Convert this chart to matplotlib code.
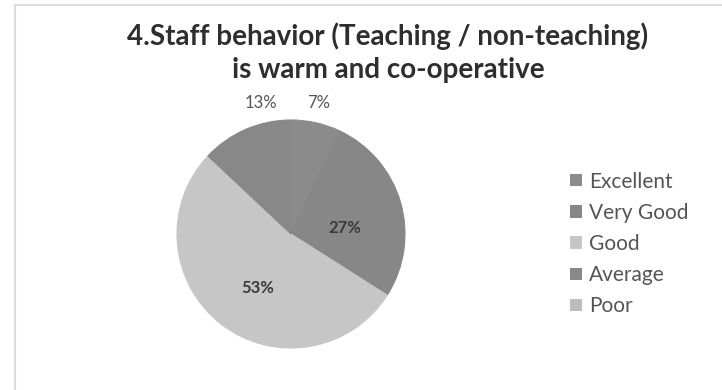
import matplotlib.pyplot as plt
import numpy as np
from matplotlib.patches import Rectangle

categories = ["Excellent", "Very Good", "Good", "Average", "Poor"]
shares = [7, 27, 53, 13, 0]
colors = ["#8b8b8b", "#878787", "#c6c6c6", "#888888", "#bdbdbd"]
title = "4.Staff behavior (Teaching / non-teaching)\nis warm and co-operative"

fig = plt.figure(figsize=(7.22, 3.9), dpi=100)
fig.patch.set_facecolor("white")

# faint chart-area frame (top and left edges visible in the scan)
fig.add_artist(Rectangle((15 / 722, -0.05), 1.0, (385 / 390) + 0.05,
                         transform=fig.transFigure, fill=False,
                         edgecolor="#dcdcdc", linewidth=1.5))

ax = fig.add_axes([177 / 722, 42 / 390, 228 / 722, 228 / 390])
wedges, _ = ax.pie(shares, colors=colors, startangle=90, counterclock=False,
                   radius=1.0)
for w, c, v in zip(wedges, colors, shares):
    w.set_edgecolor(c)
    w.set_linewidth(0.8 if v > 0 else 0)
ax.set_xlim(-1, 1)
ax.set_ylim(-1, 1)
ax.set_aspect("equal")

# data labels (Excel "best fit" placement)
label_pos = {"Excellent": (0.24, 1.15), "Very Good": (0.47, 0.05),
             "Good": (-0.29, -0.47), "Average": (-0.26, 1.15)}
for name, val in zip(categories, shares):
    if val == 0:
        continue
    x, y = label_pos[name]
    outside = y > 1
    ax.text(x, y, f"{val}%", ha="center", va="center",
            fontsize=12, family="Lato",
            color="#555555" if outside else "#3a3a3a",
            fontweight="normal" if outside else "bold", clip_on=False)

fig.text(388 / 722, 1 - 53 / 390, title, ha="center", va="center",
         fontsize=20, fontweight="bold", family="Lato", color="#2e2e2e",
         linespacing=1.35)

handles = [Rectangle((0, 0), 1, 1, facecolor=c, edgecolor="none") for c in colors]
fig.legend(handles, categories, loc="center left",
           bbox_to_anchor=(562 / 722, 1 - 244 / 390), frameon=False,
           prop=dict(family="Lato", size=15), labelcolor="#555555",
           handlelength=0.55, handleheight=0.55, handletextpad=0.35,
           labelspacing=0.54, borderaxespad=0)

plt.savefig("out.png", dpi=100)
